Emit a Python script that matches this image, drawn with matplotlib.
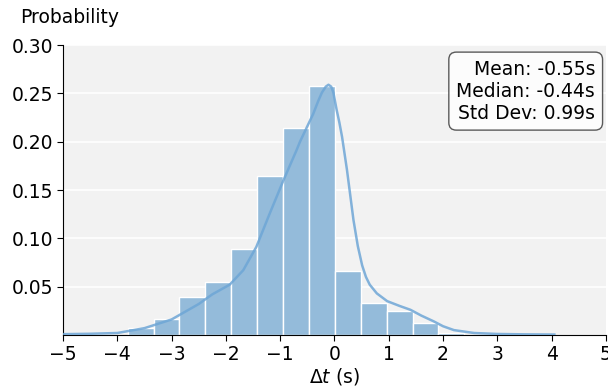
import numpy as np
import matplotlib
matplotlib.use('Agg')
import matplotlib.pyplot as plt

# Histogram bins (s) and probabilities
bin_edges = [-3.81, -3.33, -2.86, -2.38, -1.90, -1.43, -0.95, -0.47,
             0.01, 0.48, 0.96, 1.44, 1.91, 2.39]
probs = [0.0076, 0.017, 0.039, 0.055, 0.089, 0.165, 0.214, 0.258,
         0.066, 0.033, 0.025, 0.012, 0.002]

# KDE curve
kde_x = [-5.3, -5.0, -4.5, -4.0, -3.5, -3.0, -2.5, -2.25, -1.93, -1.68,
         -1.44, -1.19, -0.94, -0.70, -0.635, -0.50, -0.39, -0.30, -0.23,
         -0.16, -0.11, -0.06, -0.02, 0.04, 0.09, 0.14, 0.23, 0.29, 0.35,
         0.43, 0.51, 0.58, 0.65, 0.78, 0.97, 1.20, 1.40, 1.60, 1.83, 2.0,
         2.2, 2.57, 3.0, 3.5, 4.05]
kde_y = [0.0005, 0.0008, 0.0012, 0.002, 0.007, 0.016, 0.032, 0.042, 0.052,
         0.067, 0.091, 0.126, 0.160, 0.191, 0.200, 0.216, 0.229, 0.242,
         0.251, 0.257, 0.259, 0.257, 0.251, 0.233, 0.220, 0.205, 0.171,
         0.145, 0.119, 0.092, 0.072, 0.060, 0.052, 0.043, 0.035, 0.030,
         0.026, 0.020, 0.014, 0.009, 0.005, 0.002, 0.001, 0.0006, 0.0004]

stats_text = "Mean: -0.55s\nMedian: -0.44s\nStd Dev: 0.99s"

fig = plt.figure(figsize=(6.08, 3.89), dpi=100)
ax = fig.add_axes([0.1036, 0.139, 0.893, 0.745])
ax.set_facecolor('#f2f2f2')

left = np.array(bin_edges[:-1])
widths = np.diff(bin_edges)
ax.bar(left, probs, width=widths, align='edge', color='#94bbda',
       edgecolor='white', linewidth=1.0, zorder=2)
ax.plot(kde_x, kde_y, color='#6ea6d6', lw=1.8, alpha=0.85, zorder=3,
        solid_joinstyle='round')

ax.set_xlim(-5, 5)
ax.set_ylim(0, 0.30)
ax.set_xticks(range(-5, 6))
ax.set_yticks([0.05, 0.10, 0.15, 0.20, 0.25, 0.30])
ax.yaxis.grid(True, color='white', lw=1.2, zorder=1)
ax.set_axisbelow(True)
for s in ['top', 'right']:
    ax.spines[s].set_visible(False)
ax.tick_params(labelsize=13.5, length=4, pad=3)

ax.set_xlabel(r'$\Delta t$ (s)', fontsize=13.5, labelpad=2)
ax.text(-0.079, 1.097, 'Probability', transform=ax.transAxes,
        fontsize=13.5, ha='left', va='center')

ax.text(0.98, 0.95, stats_text, transform=ax.transAxes, fontsize=13.5,
        ha='right', va='top', linespacing=1.2,
        bbox=dict(boxstyle='round,pad=0.4', facecolor='white', alpha=0.8,
                  edgecolor='#333333'))

fig.savefig('out.png', dpi=100)
